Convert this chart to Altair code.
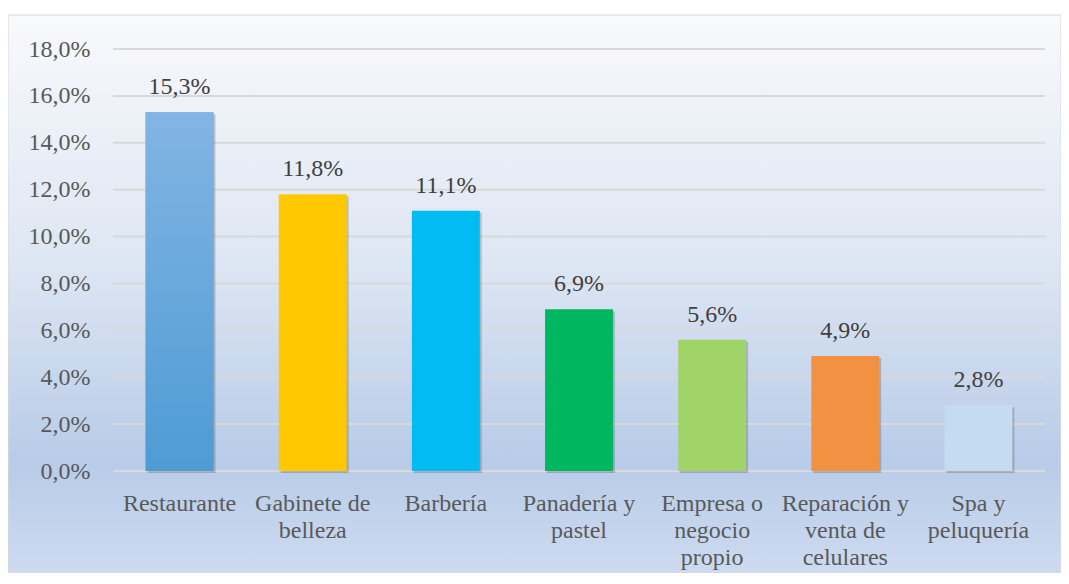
import altair as alt
import pandas as pd

categories = ["Restaurante", "Gabinete de belleza", "Barbería", "Panadería y pastel",
              "Empresa o negocio propio", "Reparación y venta de celulares", "Spa y peluquería"]
label_lines = [["Restaurante"], ["Gabinete de", "belleza"], ["Barbería"], ["Panadería y", "pastel"],
               ["Empresa o", "negocio", "propio"], ["Reparación y", "venta de", "celulares"],
               ["Spa y", "peluquería"]]
values = [15.3, 11.8, 11.1, 6.9, 5.6, 4.9, 2.8]
colors = ["#65a5dc", "#ffc800", "#00bcf2", "#00b65e", "#a0d468", "#f39142", "#c5dbf0"]
grid_values = [0, 2, 4, 6, 8, 10, 12, 14, 16, 18]

FONT = "Liberation Serif"
FS = 24
df = pd.DataFrame({"category": categories, "value": values, "color": colors})
grid_df = pd.DataFrame({"value": grid_values})

W, H = 932, 422
PAD = {"left": 105, "top": 41, "right": 16, "bottom": 102}

label_map = "{" + ",".join(
    "'" + c + "':[" + ",".join("'" + l + "'" for l in ls) + "]" for c, ls in zip(categories, label_lines)
) + "}"

yscale = alt.Scale(domain=[0, 18], nice=False, zero=True)
xscale = alt.Scale(paddingInner=0.49, paddingOuter=0.245)

y_enc = alt.Y("value:Q", scale=yscale, title=None,
              axis=alt.Axis(values=grid_values, grid=False, domain=False, ticks=False,
                            labelExpr="replace(format(datum.value,'.1f'),'.',',') + '%'",
                            labelFont=FONT, labelFontSize=FS, labelColor="#595959",
                            labelPadding=23, zindex=1))

x_enc = alt.X("category:N", sort=categories, scale=xscale, title=None,
              axis=alt.Axis(labelExpr=label_map + "[datum.label]", labelAngle=0,
                            labelFont=FONT, labelFontSize=FS, labelColor="#595959",
                            labelLineHeight=27, labelBaseline="top", labelPadding=20,
                            domain=False, ticks=False, grid=False, zindex=1,
                            labelLimit=300))

bg = alt.Chart(alt.Data(values=[{"a": 1}])).mark_rect(
    fill=alt.LinearGradient(gradient="linear", x1=0, x2=0, y1=0, y2=1,
                            stops=[alt.GradientStop(offset=0, color="#f8f9fc"),
                                   alt.GradientStop(offset=0.45, color="#dde6f3"),
                                   alt.GradientStop(offset=0.8, color="#b8cbe8"),
                                   alt.GradientStop(offset=1, color="#cddbf0")]),
    stroke="#d9d9d9", strokeWidth=1
).encode(x=alt.value(-PAD["left"]), x2=alt.value(W + PAD["right"]),
         y=alt.value(-34), y2=alt.value(H + PAD["bottom"]))

grid = alt.Chart(grid_df).mark_rule(color="#d9d9d9", strokeWidth=2).encode(y=y_enc)

shadow = alt.Chart(df).mark_bar(color="#000000", opacity=0.18, xOffset=2, x2Offset=2,
                                yOffset=2, y2Offset=2).encode(x=x_enc, y=y_enc)

bars = alt.Chart(df).mark_bar().encode(
    x=x_enc, y=y_enc,
    color=alt.Color("color:N", scale=None, legend=None),
)

grad_bar = alt.Chart(df).transform_filter(
    alt.datum.category == categories[0]
).mark_bar(
    fill=alt.LinearGradient(gradient="linear", x1=0, x2=0, y1=0, y2=1,
                            stops=[alt.GradientStop(offset=0, color="#82b5e3"),
                                   alt.GradientStop(offset=1, color="#4e9bd4")])
).encode(x=x_enc, y=y_enc)

text = alt.Chart(df).transform_calculate(
    lbl="replace(format(datum.value,'.1f'),'.',',') + '%'"
).mark_text(font=FONT, fontSize=FS, color="#404040", baseline="alphabetic", dy=-18).encode(
    x=x_enc, y=y_enc, text="lbl:N"
)

chart = alt.layer(bg, grid, shadow, bars, grad_bar, text).properties(
    width=W, height=H,
    autosize=alt.AutoSizeParams(type="none"),
    padding=PAD,
    background="white",
).configure_view(strokeWidth=0)

chart.save("out.html", embed_options={"renderer": "svg", "actions": False})
